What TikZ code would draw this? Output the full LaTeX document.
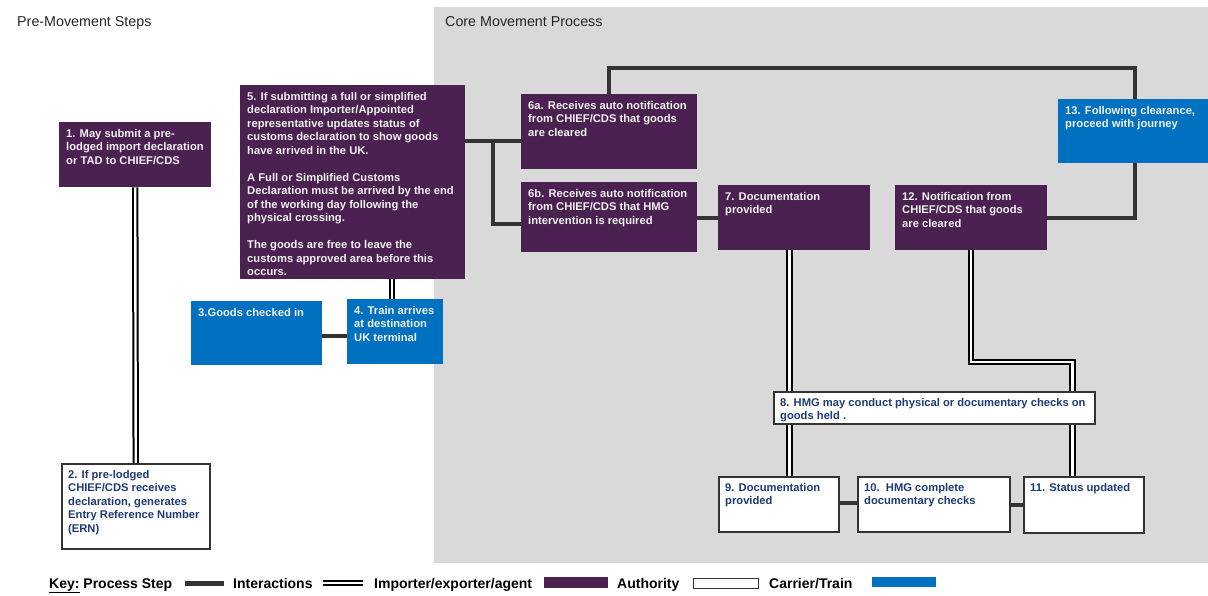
\documentclass[tikz,border=0pt]{standalone}
\usepackage{fontspec}
\setmainfont{Liberation Sans}
\usetikzlibrary{calc}
\definecolor{purp}{HTML}{4A2150}
\definecolor{cblue}{HTML}{0070C0}
\definecolor{bggrey}{HTML}{D9D9D9}
\definecolor{navy}{HTML}{1F3A78}
\definecolor{ltext}{HTML}{F2F2F2}
\definecolor{lgrey}{HTML}{333333}
\definecolor{ttext}{HTML}{262626}
\pgfdeclarelayer{bgl}
\pgfdeclarelayer{lnl}
\pgfsetlayers{bgl,lnl,main}
\newcommand{\boxfont}{\fontsize{11.2}{13.5}\selectfont\bfseries}
\newcommand{\stepbox}[7]{%
  \node[#1, anchor=north west, minimum width=#5pt, minimum height=#6pt] (#2) at (#3,#4) {};
  \node[#1txt, anchor=north west] (#2t) at ([shift={(7,7)}]#2.north west) {#7};}
\begin{document}
\begin{tikzpicture}[x=1pt,y=-1pt,
  pbox/.style={fill=purp, draw=none, inner sep=0pt},
  pboxtxt/.style={text=ltext, font=\boxfont, align=left, inner sep=0pt},
  bbox/.style={fill=cblue, draw=none, inner sep=0pt},
  bboxtxt/.style={text=ltext, font=\boxfont, align=left, inner sep=0pt},
  wbox/.style={fill=white, draw=lgrey, line width=1.5pt, inner sep=0pt},
  wboxtxt/.style={text=navy, font=\boxfont, align=left, inner sep=0pt},
  inter/.style={draw=lgrey, line width=4pt},
  imp/.style={draw=black, line width=2pt, double=white, double distance=2.4pt},
  titletxt/.style={text=ttext, font=\fontsize{14.3}{17}\selectfont, inner sep=0pt, anchor=base west},
  keytxt/.style={text=black, font=\fontsize{14}{16}\selectfont\bfseries, inner sep=0pt, anchor=base west},
]
\useasboundingbox (0,0) rectangle (1208,595);
\begin{pgfonlayer}{bgl}
\fill[white] (0,0) rectangle (1208,595);
\fill[bggrey] (434,7) rectangle (1208,563);
\end{pgfonlayer}

\node[titletxt] (tpre) at (17,26.5) {Pre-Movement Steps};
\node[titletxt] (tcore) at (445,26.5) {Core Movement Process};

\stepbox{pbox}{b1}{59}{122}{152}{65}{1. May submit a pre-\\lodged import declaration\\or TAD to CHIEF/CDS}
\stepbox{pbox}{b5}{240}{85}{225}{194}{5. If submitting a full or simplified\\declaration Importer/Appointed\\representative updates status of\\customs declaration to show goods\\have arrived in the UK.\\[13.5pt]A Full or Simplified Customs\\Declaration must be arrived by the end\\of the working day following the\\physical crossing.\\[13.5pt]The goods are free to leave the\\customs approved area before this\\occurs.}
\stepbox{wbox}{b2}{61}{463}{148}{85}{2. If pre-lodged\\CHIEF/CDS receives\\declaration, generates\\Entry Reference Number\\(ERN)}
\stepbox{bbox}{b3}{191}{301}{131}{64}{3.Goods checked in}
\stepbox{bbox}{b4}{347}{299}{96}{65}{4. Train arrives\\at destination\\UK terminal}
\stepbox{pbox}{b6a}{521}{94}{176}{75}{6a. Receives auto notification\\from CHIEF/CDS that goods\\are cleared}
\stepbox{pbox}{b6b}{521}{182}{176}{70}{6b. Receives auto notification\\from CHIEF/CDS that HMG\\intervention is required}
\stepbox{pbox}{b7}{718}{185}{152}{65}{7. Documentation\\provided}
\stepbox{bbox}{b13}{1058}{99}{150}{64}{13. Following clearance,\\proceed with journey}
\stepbox{pbox}{b12}{895}{185}{152}{65}{12. Notification from\\CHIEF/CDS that goods\\are cleared}
\stepbox{wbox}{b8}{773}{391}{321}{32}{8. HMG may conduct physical or documentary checks on\\goods held .}
\stepbox{wbox}{b9}{718}{476}{120}{55}{9. Documentation\\provided}
\stepbox{wbox}{b10}{857}{476}{152}{55}{10.\ \ HMG complete\\documentary checks}
\stepbox{wbox}{b11}{1023}{476}{120}{56}{11. Status updated}

\coordinate (d1) at (392,0);
\coordinate (d2) at (789.5,0);
\coordinate (d3) at (1072.5,362);
\coordinate (j1) at (492.5,140.5);
\coordinate (j2) at (492.5,223.5);
\coordinate (k1) at (1135,67.5);
\coordinate (k2) at (0,336);
\coordinate (k3) at (0,217.5);
\coordinate (k4) at (0,502.5);
\coordinate (k5) at (0,504.5);

\begin{pgfonlayer}{lnl}
\draw[imp] (b1.south) -- (b2.north);
\draw[imp] (b5.south -| d1) -- (b4.north -| d1);
\draw[imp] (b7.south -| d2) -- (b8.north -| d2);
\draw[imp] (b8.south -| d2) -- (b9.north -| d2);
\draw[imp] (b12.south) |- (d3) -- (b8.north -| d3);
\draw[imp] (b8.south -| d3) -- (b11.north -| d3);
\draw[inter] (b5.east |- j1) -- (b6a.west |- j1);
\draw[inter] (j1) -- (j2) -- (b6b.west |- j2);
\draw[inter] (b6b.east |- k3) -- (b7.west |- k3);
\draw[inter] (b6a.north) |- (k1) -- (k1 |- b13.north);
\draw[inter] (b13.south -| k1) |- (b12.east |- k3);
\draw[inter] (b3.east |- k2) -- (b4.west |- k2);
\draw[inter] (b9.east |- k4) -- (b10.west |- k4);
\draw[inter] (b10.east |- k5) -- (b11.west |- k5);
\end{pgfonlayer}

% key
\node[keytxt] (kk) at (49,588) {\underline{Key:} Process Step};
\coordinate (ka1) at (185,583);
\coordinate (ka2) at (224,583);
\draw[inter, line width=5pt] (ka1) -- (ka2);
\node[keytxt] (ki) at (233,588) {Interactions};
\coordinate (kb1) at (323,583);
\coordinate (kb2) at (363,583);
\draw[imp] (kb1) -- (kb2);
\node[keytxt] (kim) at (374,588) {Importer/exporter/agent};
\node[pbox, anchor=north west, minimum width=64pt, minimum height=11pt] (kp) at (544,577) {};
\node[keytxt] (kau) at (617,588) {Authority};
\node[wbox, line width=1.2pt, anchor=north west, minimum width=65pt, minimum height=10pt] (kw) at (693,578) {};
\node[keytxt] (kc) at (769,588) {Carrier/Train};
\node[bbox, anchor=north west, minimum width=64pt, minimum height=10pt] (kbl) at (872,577) {};
\end{tikzpicture}
\end{document}
